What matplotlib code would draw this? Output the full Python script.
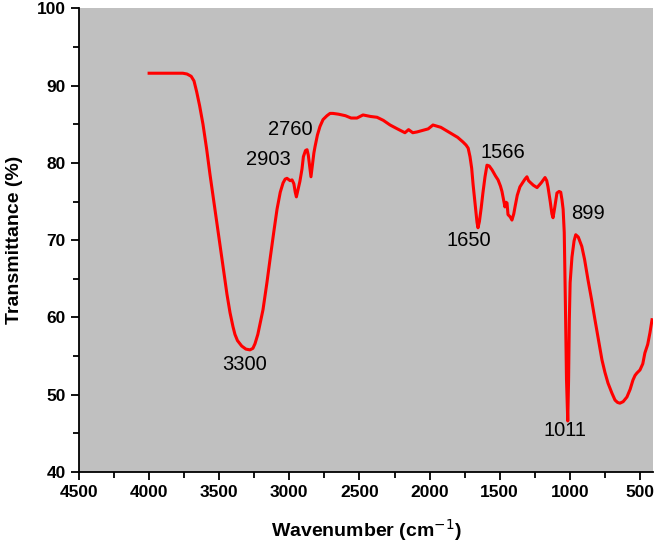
import matplotlib.pyplot as plt
from matplotlib.ticker import MultipleLocator

# FTIR spectrum
wavenumber = [4000, 3900, 3800, 3760, 3730, 3700, 3680, 3661, 3640, 3616, 3590,
              3566, 3540, 3518, 3495, 3473, 3445, 3423, 3402, 3388, 3370, 3340,
              3310, 3281, 3260, 3245, 3225, 3205, 3188, 3160, 3138, 3110, 3088,
              3065, 3045, 3030, 3017, 2995, 2981, 2968, 2958, 2950, 2940, 2925,
              2910, 2900, 2885, 2874, 2865, 2855, 2846, 2835, 2825, 2817, 2800,
              2782, 2760, 2732, 2710, 2689, 2650, 2600, 2560, 2518, 2475, 2420,
              2375, 2330, 2282, 2230, 2176, 2150, 2120, 2090, 2050, 2010, 1976,
              1920, 1855, 1800, 1762, 1740, 1725, 1712, 1700, 1690, 1675, 1662,
              1655, 1645, 1632, 1620, 1605, 1591, 1575, 1555, 1530, 1512, 1495,
              1484, 1470, 1463, 1455, 1448, 1441, 1425, 1413, 1400, 1391, 1375,
              1356, 1334, 1320, 1306, 1295, 1284, 1260, 1234, 1205, 1177, 1165,
              1156, 1140, 1128, 1120, 1108, 1092, 1077, 1065, 1056, 1048, 1040,
              1032, 1024, 1015, 1009, 1004, 998, 985, 970, 958, 940, 915, 895,
              871, 845, 821, 795, 771, 750, 728, 700, 678, 660, 643, 620, 593,
              570, 550, 535, 522, 500, 480, 465, 445, 429, 414]
transmittance = [91.6, 91.6, 91.6, 91.6, 91.5, 91.2, 90.6, 89.2, 87.4, 85.0, 81.8,
                 78.5, 75.2, 72.4, 69.5, 66.6, 63.0, 60.6, 58.8, 57.8, 57.0, 56.3,
                 55.9, 55.8, 56.0, 56.6, 57.8, 59.5, 61.0, 64.5, 67.5, 71.2, 74.0,
                 76.2, 77.4, 77.9, 78.0, 77.7, 77.8, 77.3, 76.2, 75.6, 76.4, 77.6,
                 79.2, 80.8, 81.6, 81.7, 81.0, 79.5, 78.2, 79.8, 81.3, 82.1, 83.6,
                 84.7, 85.6, 86.1, 86.4, 86.4, 86.3, 86.1, 85.8, 85.8, 86.2, 86.0,
                 85.9, 85.5, 84.9, 84.4, 83.9, 84.3, 83.9, 84.0, 84.2, 84.4, 84.9,
                 84.6, 83.9, 83.3, 82.7, 82.3, 81.9, 80.8, 79.3, 77.2, 74.5, 72.3,
                 71.6, 72.4, 74.2, 76.1, 78.2, 79.7, 79.6, 79.1, 78.3, 77.8, 77.0,
                 76.3, 75.0, 74.3, 74.9, 74.8, 73.3, 73.0, 72.6, 73.4, 74.3, 75.8,
                 76.9, 77.5, 77.9, 78.2, 77.7, 77.5, 77.1, 76.8, 77.4, 78.1, 77.7,
                 76.9, 75.0, 73.4, 72.9, 74.2, 76.1, 76.3, 76.2, 75.2, 74.0, 71.0,
                 62.0, 52.0, 46.6, 52.0, 59.5, 64.5, 67.8, 69.9, 70.7, 70.4, 69.2,
                 67.5, 64.9, 62.3, 59.7, 57.0, 54.5, 52.9, 51.5, 50.2, 49.3, 49.0,
                 48.9, 49.1, 49.7, 50.7, 51.9, 52.5, 52.8, 53.2, 54.0, 55.4, 56.5,
                 58.0, 59.7]

peak_labels = ["3300", "2903", "2760", "1566", "1650", "899", "1011"]
label_x = [3316, 3152, 2996, 1477, 1719, 871, 1035]
label_y = [53.9, 80.4, 84.3, 81.3, 70.0, 73.5, 45.4]

tick_font = ["Liberation Sans", "DejaVu Sans"]

fig = plt.figure(figsize=(6.54, 5.43), dpi=100)
ax = fig.add_axes([0.1208, 0.1308, 0.8777, 0.8539])
ax.set_facecolor("#c0c0c0")

ax.plot(wavenumber, transmittance, color="#ff0000", linewidth=2.2,
        solid_joinstyle="round")

for txt, x, y in zip(peak_labels, label_x, label_y):
    ax.text(x, y, txt, ha="center", va="center", fontsize=14.5,
            family=["Liberation Sans", "DejaVu Sans"])

ax.set_xlim(4500, 407)
ax.set_ylim(40, 100)
ax.xaxis.set_major_locator(MultipleLocator(500))
ax.xaxis.set_minor_locator(MultipleLocator(250))
ax.yaxis.set_major_locator(MultipleLocator(10))
ax.yaxis.set_minor_locator(MultipleLocator(5))

ax.spines["top"].set_visible(False)
ax.spines["right"].set_visible(False)
ax.spines["left"].set_linewidth(1.3)
ax.spines["bottom"].set_linewidth(1.3)
ax.tick_params(which="major", direction="out", length=6, width=1.3)
ax.tick_params(which="minor", direction="out", length=4, width=1.3)

for lab in ax.get_xticklabels() + ax.get_yticklabels():
    lab.set_family(tick_font)
    lab.set_fontweight("bold")
    lab.set_fontsize(12.5)

ax.set_xlabel("Wavenumber (cm$^{-1}$)", fontsize=14, fontweight="bold",
              family=tick_font, labelpad=12)
ax.set_ylabel("Transmittance (%)", fontsize=14, fontweight="bold",
              family=tick_font, labelpad=10)

fig.savefig("out.png", dpi=100)
